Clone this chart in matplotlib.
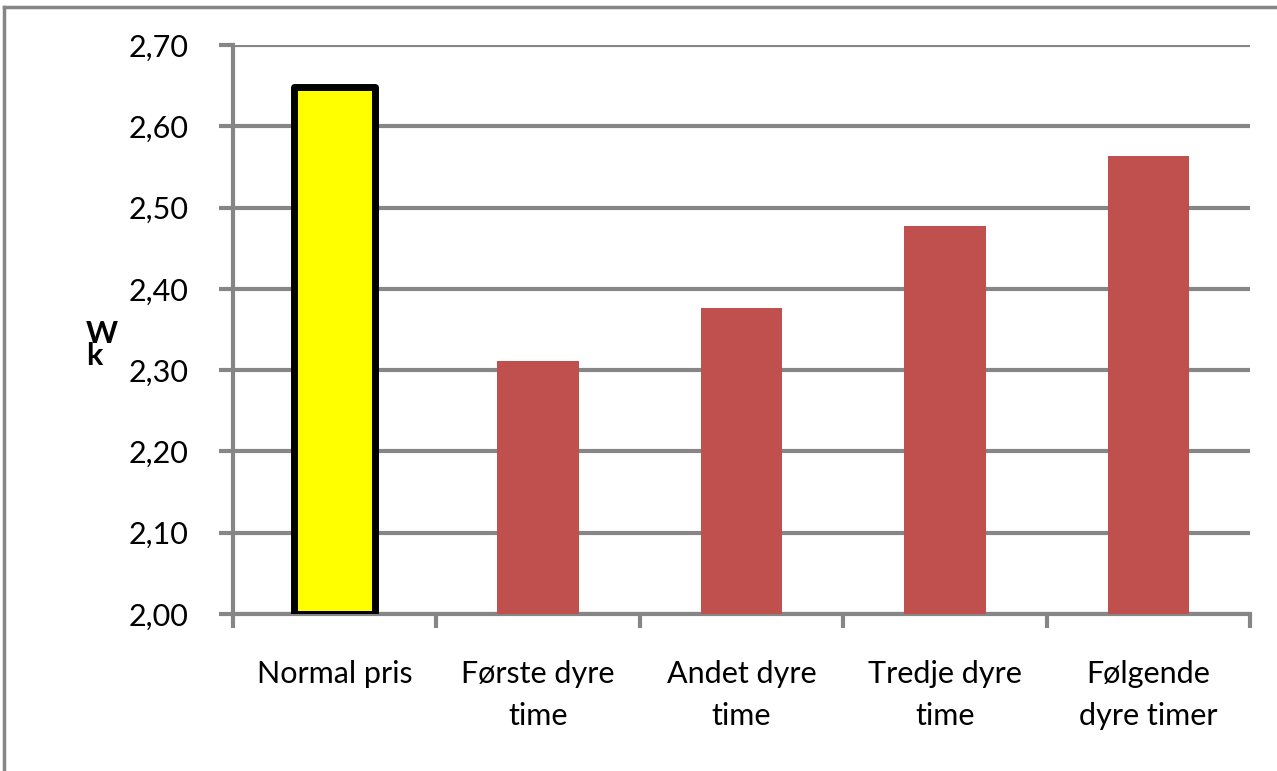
import matplotlib.pyplot as plt
import matplotlib.ticker as mticker
from matplotlib.lines import Line2D

# Pris per kategori
kategorier = ["Normal pris", "Første dyre\ntime", "Andet dyre\ntime", "Tredje dyre\ntime", "Følgende\ndyre timer"]
verdier = [2.648, 2.311, 2.377, 2.477, 2.563]
farger = ["#FFFF00", "#C0504D", "#C0504D", "#C0504D", "#C0504D"]
y_ticks = [2.00, 2.10, 2.20, 2.30, 2.40, 2.50, 2.60, 2.70]

grid_color = "#868686"
plt.rcParams['font.family'] = ['Lato', 'DejaVu Sans']

fig = plt.figure(figsize=(12.77, 7.71), dpi=100)
ax = fig.add_axes([233 / 1277, 1 - 614 / 771, 1017 / 1277, 569 / 771])

x = list(range(len(kategorier)))
bars = ax.bar(x, [v - 2.0 for v in verdier], bottom=2.0, width=0.4, color=farger,
              zorder=3, linewidth=0)
# første søyle har tykk svart ramme
bars[0].set_edgecolor("black")
bars[0].set_linewidth(5)
bars[0].set_joinstyle("round")

ax.set_xlim(-0.5, len(kategorier) - 0.5)
ax.set_ylim(2.0, 2.7)
ax.set_yticks(y_ticks)
ax.yaxis.set_major_formatter(mticker.FuncFormatter(lambda v, p: f"{v:.2f}".replace(".", ",")))
ax.grid(axis="y", color=grid_color, linewidth=3, zorder=0)
ax.set_axisbelow(True)

ax.set_xticks([i - 0.5 for i in range(len(kategorier) + 1)], minor=False)
ax.set_xticklabels([])
ax.set_xticks(x, minor=True)
ax.set_xticklabels(kategorier, minor=True, fontsize=22, linespacing=1.6)
ax.tick_params(axis="x", which="minor", length=0, pad=33)
ax.tick_params(axis="x", which="major", length=10, width=3, color=grid_color)
ax.tick_params(axis="y", length=10, width=3, color=grid_color, labelsize=22, pad=22)

for side in ["top", "right"]:
    ax.spines[side].set_visible(False)
for side in ["left", "bottom"]:
    ax.spines[side].set_color(grid_color)
    ax.spines[side].set_linewidth(3)

# aksetittel
fig.text(86 / 1277, 1 - 345 / 771, "W\nk", fontsize=22, fontweight="bold", ha="left", va="center",
         multialignment="left", linespacing=0.7)

# ramme rundt diagrammet
fig.add_artist(Line2D([4 / 1277, 1], [1 - 7 / 771, 1 - 7 / 771], color=grid_color, linewidth=2.5,
                      transform=fig.transFigure))
fig.add_artist(Line2D([4 / 1277, 4 / 1277], [0, 1 - 7 / 771], color=grid_color, linewidth=2.5,
                      transform=fig.transFigure))

fig.savefig("out.png", dpi=100)
